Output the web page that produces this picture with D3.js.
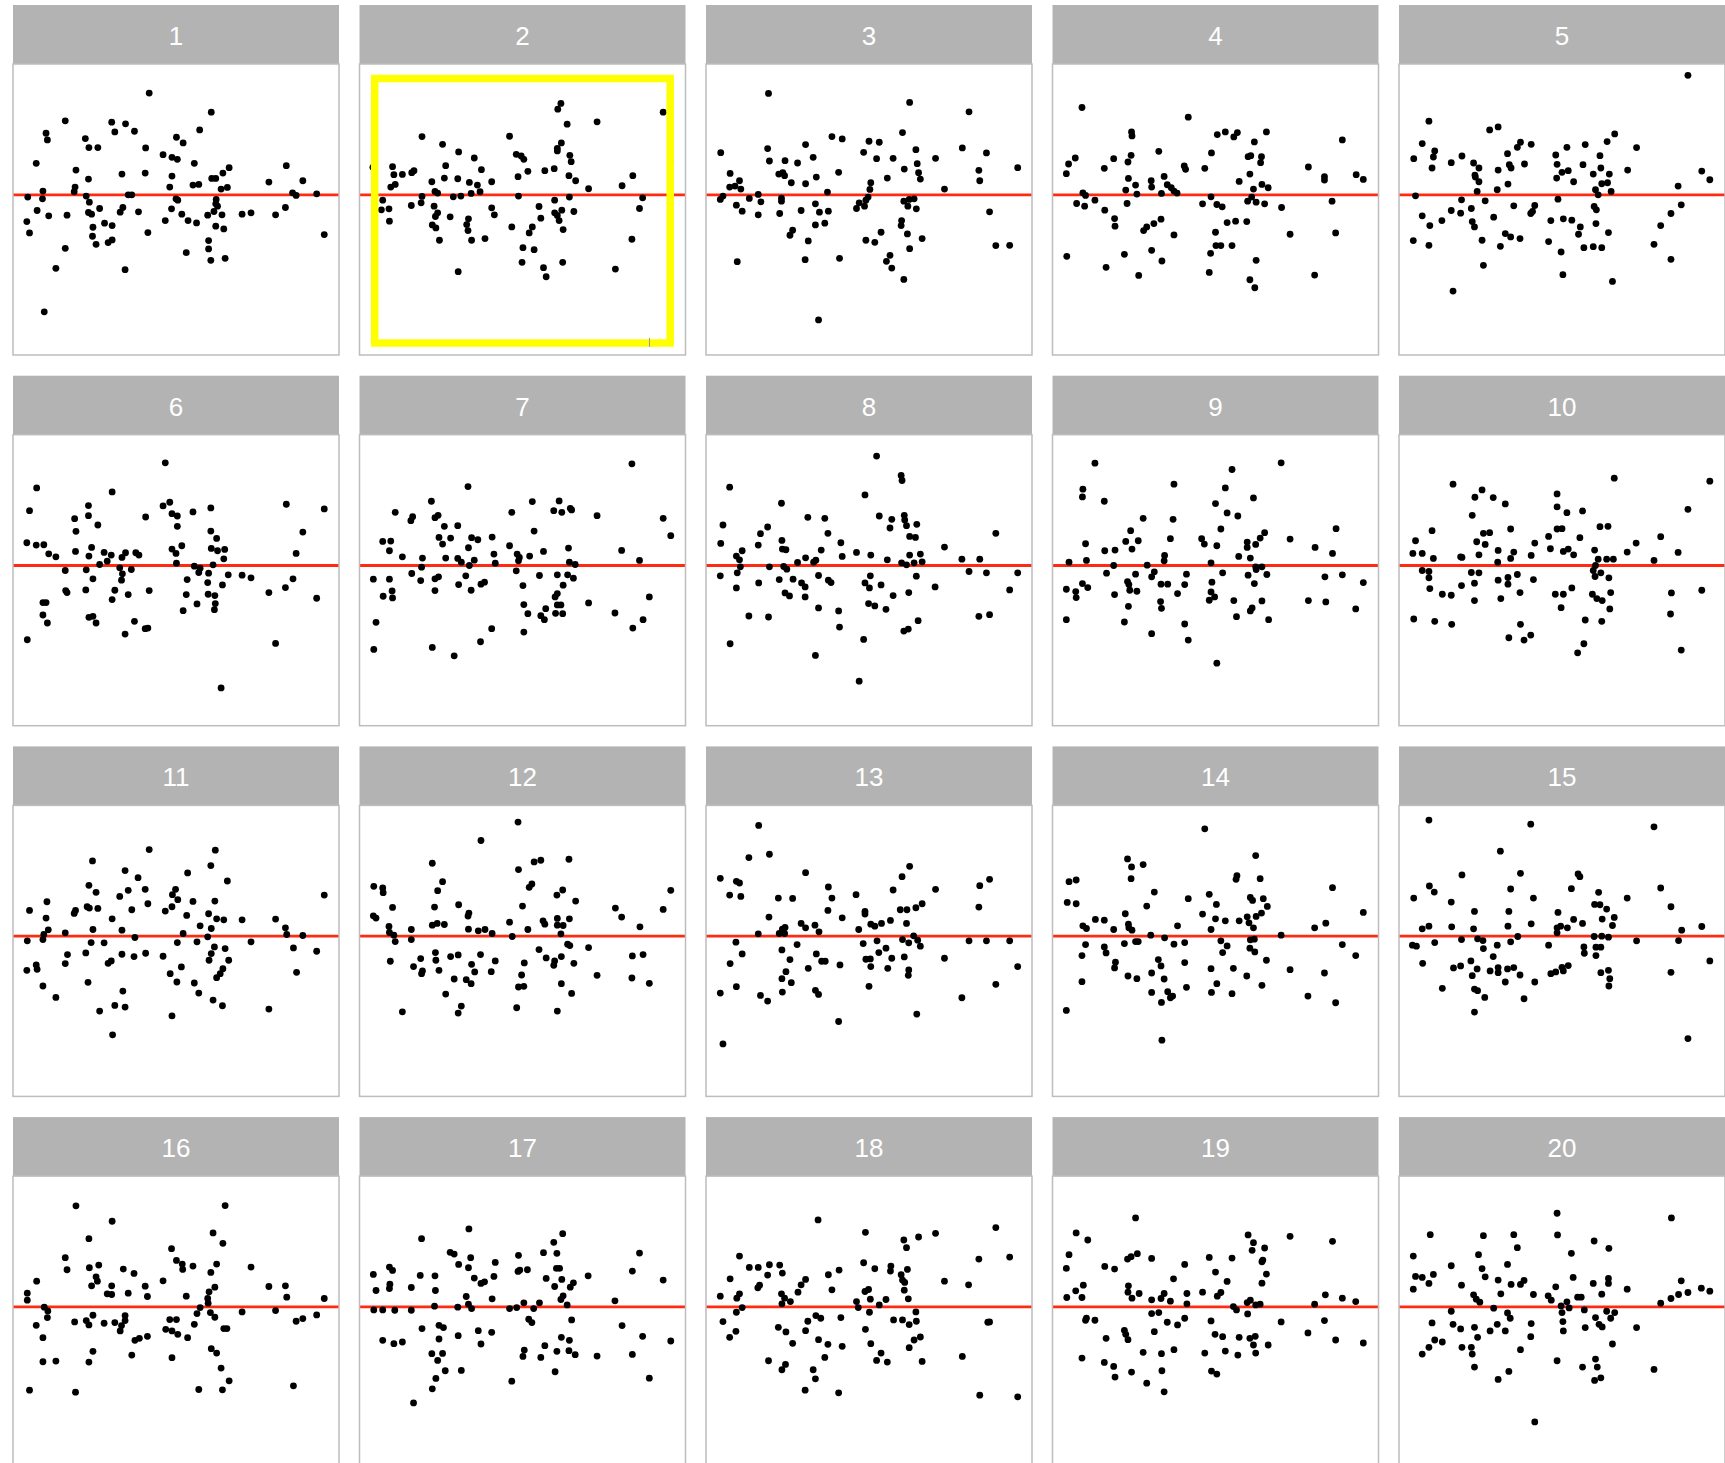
<!DOCTYPE html>
<html>
<head>
<meta charset="utf-8">
<script src="https://cdn.jsdelivr.net/npm/d3@7/dist/d3.min.js"></script>
<style>
body { margin: 0; background: #ffffff; }
</style>
</head>
<body>
<div class="LINEUP"></div>
<script>

// point data, one array per panel: [fitted, residual]
var p1 = [[30.5,30.4],[44.4,24.7],[11.7,22.1],[22.1,21.7],[25.2,21.2],[22.8,18.8],[27.2,19.0],[7.4,18.4],[7.7,16.4],[16.2,16.8],[41.8,19.4],[36.6,17.2],[38.1,15.5],[17.0,14.1],[19.0,14.1],[29.7,14.0],[33.6,12.0],[35.6,11.2],[36.8,10.6],[40.6,9.4],[5.2,9.4],[14.1,7.4],[24.4,6.2],[29.6,6.5],[35.6,5.6],[48.4,8.1],[47.0,6.5],[44.5,4.9],[45.4,4.9],[16.9,4.7],[61.2,8.7],[57.3,3.8],[64.9,4.2],[35.1,2.3],[40.3,2.9],[41.6,3.1],[46.6,1.7],[48.0,2.2],[13.9,2.3],[13.7,0.9],[6.7,1.1],[3.3,-0.7],[6.6,-1.2],[16.4,-0.4],[17.1,-2.2],[25.8,0],[26.6,0],[36.5,-1.2],[36.9,-1.6],[45.5,-1.4],[45.4,-2.7],[62.6,0.6],[63.4,-0.2],[68.0,0.3],[5.4,-4.7],[8.0,-6.3],[12.1,-6.1],[16.9,-5.3],[17.6,-5.8],[19.4,-4.1],[24.0,-5.2],[24.6,-3.8],[28.1,-5.1],[35.5,-4.2],[37.8,-5.8],[39.2,-7.7],[41.1,-8.4],[43.6,-6.1],[45.0,-5.0],[46.8,-6.0],[45.8,-3.4],[51.3,-5.8],[53.3,-5.4],[58.8,-6.0],[61.0,-3.8],[3.1,-8.0],[3.7,-11.4],[17.9,-9.7],[20.5,-8.5],[22.2,-9.2],[17.8,-12.4],[18.6,-14.8],[21.3,-14.3],[22.2,-13.5],[34.1,-7.7],[30.2,-11.3],[45.4,-9.4],[47.2,-10.2],[43.8,-13.7],[43.8,-16.2],[44.3,-19.6],[47.5,-19.0],[38.8,-17.3],[69.7,-11.9],[11.7,-16.0],[9.6,-22.0],[25.1,-22.4],[7.0,-35.0]];

var p2 = [[45.1,27.3],[44.4,25.6],[68.0,24.7],[53.2,21.8],[46.5,21.1],[14.0,17.4],[33.6,17.5],[18.6,15.1],[45.2,15.5],[44.3,13.9],[44.3,13.1],[22.2,12.8],[25.7,11.0],[35.1,12.1],[36.2,11.6],[36.8,10.6],[47.1,11.8],[47.4,9.9],[7.4,8.4],[19.3,8.7],[27.3,7.5],[7.7,6.0],[9.6,6.1],[11.7,6.6],[12.2,7.2],[37.7,7.0],[41.5,7.2],[43.6,7.8],[35.5,5.4],[46.9,5.7],[48.4,4.2],[61.2,5.7],[19.0,5.0],[22.0,4.8],[16.2,3.9],[24.6,3.7],[29.6,3.9],[26.4,2.9],[8.0,3.1],[7.0,2.3],[51.3,1.8],[58.8,2.7],[3.4,0.9],[16.9,1.0],[17.5,0.5],[27.0,0.9],[25.0,0.4],[22.7,-0.4],[21.0,-0.6],[14.0,-0.5],[35.6,-0.4],[47.0,-0.7],[63.4,-0.9],[5.2,-1.6],[13.8,-2.4],[11.6,-3.2],[16.7,-3.4],[4.9,-4.5],[6.6,-4.2],[43.7,-1.6],[40.2,-3.5],[45.3,-4.6],[43.7,-5.4],[48.0,-5.0],[29.6,-3.9],[30.2,-6.0],[62.7,-4.1],[17.5,-5.4],[17.0,-6.5],[20.3,-6.6],[24.4,-7.2],[40.6,-7.0],[44.3,-6.2],[44.7,-7.7],[6.7,-7.9],[24.0,-8.9],[16.3,-9.0],[17.1,-9.9],[24.3,-10.7],[34.1,-9.6],[38.7,-9.6],[38.0,-11.4],[45.6,-10.4],[17.9,-13.6],[25.1,-13.6],[28.1,-13.1],[61.0,-13.3],[36.6,-15.8],[39.1,-16.4],[36.4,-20.2],[45.5,-20.2],[41.2,-21.8],[41.8,-24.5],[22.1,-23.0],[57.3,-22.2],[3.0,8.2],[69.6,9.8]];

var p3 = [[14.0,30.3],[45.6,27.6],[58.9,24.8],[44.0,18.6],[28.2,17.4],[30.5,16.7],[36.5,16.0],[38.8,15.7],[3.3,12.6],[13.8,13.8],[22.3,15.0],[35.3,12.7],[47.0,13.5],[57.4,14.0],[62.8,12.5],[14.2,10.1],[17.7,10.2],[20.5,9.5],[24.0,11.2],[38.2,10.8],[41.9,10.9],[51.4,10.9],[47.3,9.3],[44.4,7.7],[47.6,6.6],[48.0,4.7],[69.8,8.1],[61.1,7.3],[61.3,4.2],[5.4,6.4],[16.3,6.2],[17.2,6.6],[17.6,5.7],[29.7,6.7],[24.7,5.3],[40.6,5.0],[7.5,4.2],[19.1,3.6],[22.3,3.3],[36.9,3.6],[5.3,2.3],[6.5,2.6],[7.8,1.7],[36.7,1.6],[53.4,1.7],[27.2,0.8],[3.8,-0.4],[3.2,-1.4],[9.7,-1.1],[11.7,0.1],[12.3,-2.1],[16.9,-1.0],[16.9,-1.9],[36.3,-0.7],[35.8,-1.6],[34.3,-2.4],[44.3,-1.9],[45.5,-1.4],[46.6,-1.2],[6.8,-3.1],[8.1,-4.9],[11.7,-6.0],[16.5,-5.6],[21.3,-4.7],[24.5,-2.7],[25.4,-5.2],[27.4,-4.9],[33.7,-4.1],[35.5,-3.4],[45.2,-3.4],[47.1,-4.2],[63.5,-5.1],[24.5,-9.0],[26.6,-8.5],[43.8,-7.7],[43.7,-9.2],[19.4,-10.6],[18.8,-12.1],[22.9,-13.8],[39.2,-11.2],[45.1,-11.7],[48.4,-13.1],[35.8,-13.6],[37.8,-14.2],[45.6,-16.1],[64.9,-15.2],[68.0,-15.1],[7.0,-20.0],[22.2,-19.4],[29.9,-19.0],[41.2,-18.1],[40.4,-19.9],[41.6,-21.9],[44.3,-25.3],[25.2,-37.4]];

var p4 = [[6.6,26.1],[30.4,23.2],[17.7,18.8],[17.8,17.6],[36.9,18.0],[38.7,18.8],[40.6,17.3],[41.4,18.6],[47.9,18.8],[45.2,15.8],[64.9,16.4],[23.8,13.0],[35.6,12.5],[5.1,11.0],[13.7,10.8],[17.6,11.8],[16.9,9.8],[43.8,11.4],[44.4,11.7],[46.8,11.4],[46.6,9.6],[3.6,9.2],[3.1,6.3],[11.6,7.9],[29.5,8.6],[29.8,7.6],[34.1,7.9],[57.3,8.3],[25.0,5.5],[44.2,6.2],[68.0,6.0],[69.6,4.6],[60.9,5.4],[60.9,4.4],[17.0,4.9],[22.1,4.2],[41.8,4.0],[18.6,2.9],[22.2,2.3],[25.7,3.0],[26.6,2.1],[46.9,3.1],[48.3,2.1],[45.0,1.7],[16.4,1.4],[18.9,0.2],[24.4,0.4],[27.9,0.5],[27.2,1.1],[6.8,0.6],[7.4,-0.2],[9.5,-1.6],[5.4,-2.6],[7.2,-3.4],[16.7,-2.6],[33.6,-2.7],[35.5,-0.6],[36.8,-2.9],[38.0,-3.6],[43.7,-1.9],[44.6,-0.7],[45.6,-2.2],[47.5,-2.7],[51.3,-3.8],[62.6,-1.9],[11.7,-4.6],[13.9,-7.1],[14.0,-9.4],[24.3,-7.3],[22.7,-8.6],[21.1,-9.6],[20.4,-10.7],[27.2,-12.0],[39.1,-8.3],[41.0,-7.9],[43.5,-8.0],[36.5,-11.2],[53.2,-11.8],[63.4,-11.4],[36.6,-15.2],[37.7,-15.2],[40.2,-15.2],[35.4,-17.5],[16.1,-17.8],[22.2,-16.6],[24.5,-19.8],[3.2,-18.4],[12.0,-21.7],[19.3,-24.1],[35.1,-23.2],[45.6,-19.6],[44.2,-25.4],[45.3,-27.8],[58.7,-24.0]];

var p5 = [[64.7,35.7],[6.7,22.0],[20.3,19.4],[22.2,20.3],[5.2,15.3],[3.3,10.8],[8.0,13.1],[7.7,11.3],[7.4,8.0],[11.7,9.6],[14.1,11.6],[16.7,9.5],[17.9,8.0],[17.0,5.9],[17.9,3.9],[17.5,1.0],[17.1,5.3],[22.2,7.4],[22.0,1.5],[24.3,12.3],[24.7,9.0],[25.1,8.0],[24.4,3.2],[26.5,14.2],[27.2,15.7],[29.6,15.1],[28.1,9.2],[35.1,11.9],[37.6,14.2],[41.7,15.0],[35.4,9.1],[36.5,6.7],[37.9,7.2],[35.3,5.0],[39.1,3.9],[41.2,9.0],[43.5,6.2],[45.0,11.7],[45.2,8.0],[46.6,15.9],[48.3,18.2],[47.1,6.2],[46.7,3.6],[45.4,3.3],[44.0,1.5],[44.6,0],[47.5,1.0],[53.2,14.1],[51.2,7.4],[62.5,2.6],[67.8,7.1],[69.6,4.5],[3.7,-0.3],[14.0,-1.5],[19.3,-1.8],[35.6,-1.3],[25.7,-3.3],[30.4,-3.2],[29.9,-5.0],[29.5,-5.6],[11.7,-4.7],[13.8,-5.5],[16.2,-4.1],[5.2,-6.3],[9.6,-7.7],[6.9,-9.2],[16.4,-8.0],[16.9,-9.6],[21.2,-6.7],[43.7,-3.5],[44.2,-4.5],[63.2,-3.0],[60.9,-5.6],[58.6,-9.2],[34.0,-7.7],[36.8,-7.2],[38.7,-7.6],[40.6,-9.6],[40.2,-11.8],[44.1,-8.6],[46.9,-11.3],[23.8,-11.6],[25.0,-12.6],[27.1,-13.1],[3.2,-13.7],[6.7,-15.1],[18.6,-13.6],[22.7,-15.4],[33.5,-14.0],[36.3,-17.1],[41.4,-15.8],[43.5,-15.5],[45.4,-15.8],[57.1,-14.8],[18.9,-21.1],[36.7,-23.9],[47.8,-25.9],[60.9,-19.3],[12.1,-28.8]];

var p6 = [[34.1,30.7],[5.3,23.2],[22.2,22.0],[3.7,16.4],[16.9,17.9],[13.8,14.0],[16.9,14.9],[14.1,10.2],[19.0,12.1],[33.6,17.8],[35.1,18.9],[35.6,15.5],[36.8,14.8],[40.3,16.0],[29.7,14.5],[36.8,11.7],[44.3,17.2],[44.3,10.3],[45.6,8.1],[61.2,18.3],[69.7,16.9],[64.9,10.0],[63.4,3.6],[3.1,6.8],[5.2,6.1],[6.9,6.2],[8.0,3.5],[9.6,2.6],[17.6,5.4],[14.0,4.2],[17.0,2.8],[20.4,3.9],[22.0,3.1],[21.1,1.3],[19.4,0.3],[24.4,2.4],[25.2,3.8],[27.5,3.8],[28.2,3.1],[35.6,4.9],[36.5,3.6],[37.8,5.9],[36.6,0.7],[44.4,5.1],[45.8,4.4],[47.4,4.8],[47.2,2.0],[44.8,0.2],[11.7,-1.5],[16.4,-1.3],[17.9,-4.0],[23.9,-0.7],[24.5,-2.5],[24.3,-4.4],[26.5,-1.2],[40.6,-0.2],[41.6,-2.1],[41.9,-0.8],[43.8,-2.3],[48.2,-2.8],[51.3,-2.9],[53.3,-3.7],[39.0,-4.2],[43.6,-5.1],[46.9,-5.8],[62.7,-4.0],[61.0,-6.6],[11.8,-7.5],[12.1,-8.1],[16.3,-7.3],[22.8,-7.4],[22.2,-10.2],[25.8,-8.7],[30.5,-7.5],[38.8,-8.7],[41.2,-11.5],[43.7,-8.6],[45.2,-9.0],[45.3,-11.4],[45.1,-13.2],[38.1,-13.5],[57.3,-8.1],[68.0,-9.8],[6.7,-11.1],[7.4,-11.1],[6.7,-14.8],[7.7,-17.2],[17.0,-15.5],[17.9,-15.2],[18.6,-17.2],[27.2,-16.7],[29.6,-18.9],[30.2,-18.7],[25.1,-20.5],[3.2,-22.2],[58.8,-23.3],[46.6,-36.6]];

var p7 = [[61.0,30.4],[24.3,23.6],[16.1,19.2],[38.7,19.1],[44.7,19.3],[43.5,16.4],[45.3,15.9],[47.2,17.1],[47.5,16.6],[34.1,15.9],[8.0,15.9],[11.9,14.6],[11.5,13.4],[16.9,14.3],[17.6,15.0],[53.2,14.9],[68.0,14.1],[69.7,8.9],[19.0,11.7],[22.0,11.9],[39.1,10.3],[17.8,8.4],[20.4,8.2],[18.6,6.4],[25.1,8.3],[26.5,7.7],[29.7,8.5],[24.4,5.3],[33.6,5.9],[5.2,7.2],[7.0,7.3],[6.7,4.4],[9.6,2.6],[14.1,2.2],[19.3,2.2],[22.0,2.1],[22.8,1.0],[25.7,1.6],[24.6,0],[30.1,3.4],[30.4,0.7],[35.3,3.4],[35.8,2.4],[35.6,1.4],[38.1,2.8],[41.2,4.2],[46.8,5.2],[47.0,1.0],[48.3,0.3],[58.7,4.5],[62.7,1.5],[13.9,-0.5],[11.7,-2.4],[13.7,-4.5],[3.1,-4.1],[6.7,-4.1],[16.9,-4.0],[17.7,-3.4],[23.8,-3.1],[22.2,-5.7],[25.0,-7.4],[27.2,-5.6],[28.0,-5.0],[35.1,-1.6],[36.6,-6.0],[40.3,-3.0],[44.3,-2.8],[46.6,-2.8],[47.9,-3.8],[45.6,-5.9],[16.9,-7.5],[5.3,-9.2],[7.3,-7.6],[7.4,-9.7],[44.3,-8.4],[43.8,-9.4],[36.8,-11.7],[37.7,-14.4],[40.6,-15.0],[41.4,-16.2],[41.7,-12.9],[44.3,-11.8],[45.1,-11.8],[43.9,-14.3],[45.5,-14.4],[51.3,-11.2],[57.2,-14.2],[64.9,-9.4],[63.5,-16.2],[61.2,-18.7],[3.7,-17.0],[3.2,-25.1],[16.3,-24.5],[21.2,-27.0],[27.1,-22.8],[29.6,-18.9],[36.8,-19.9]];

var p8 = [[38.2,32.7],[43.7,26.9],[43.9,25.4],[5.3,23.4],[35.6,21.1],[16.9,18.6],[22.8,14.4],[26.6,14.1],[38.8,14.8],[41.6,13.8],[41.2,11.2],[44.4,15.0],[44.5,13.6],[44.9,11.9],[47.2,12.3],[3.8,12.1],[13.8,11.5],[12.2,9.5],[27.3,9.6],[45.6,8.7],[46.9,8.4],[64.9,9.6],[3.3,6.6],[11.7,6.1],[17.0,7.5],[17.1,4.9],[17.9,4.7],[30.2,6.8],[25.8,4.6],[30.5,2.7],[33.7,3.9],[36.9,3.1],[40.6,1.7],[53.4,5.5],[8.1,4.4],[6.8,2.8],[7.5,1.7],[7.7,-0.4],[7.0,-2.2],[3.2,-3.1],[6.8,-6.7],[14.2,-0.4],[11.8,-5.2],[17.4,-0.3],[18.1,-1.1],[20.5,0.9],[22.3,2.3],[24.1,1.0],[24.6,1.6],[16.4,-4.2],[19.5,-4.1],[21.4,-5.2],[22.2,-6.4],[25.2,-3.0],[27.4,-4.4],[28.0,-5.1],[17.7,-8.2],[18.7,-9.1],[22.2,-9.4],[25.2,-12.7],[29.7,-13.6],[29.9,-18.4],[24.5,-26.9],[34.3,-34.6],[35.3,-22.1],[36.8,-3.1],[35.6,-5.2],[36.6,-6.7],[39.2,-5.8],[41.9,-9.0],[36.4,-11.4],[37.8,-12.1],[40.3,-13.1],[45.4,-8.1],[47.1,-3.2],[43.8,0.8],[44.9,0.2],[45.6,3.1],[46.6,0.8],[48.0,3.4],[48.4,1.1],[57.3,1.9],[61.3,1.9],[58.9,-1.8],[62.8,-2.2],[69.8,-2.2],[51.3,-6.4],[68.0,-7.3],[47.5,-16.5],[45.3,-19.0],[44.3,-19.6],[61.1,-15.2],[63.5,-14.7],[9.6,-15.1],[14.0,-15.4],[5.4,-23.4]];

var p9 = [[9.5,30.6],[51.2,30.7],[40.2,28.7],[27.2,24.3],[6.8,22.8],[6.7,20.5],[38.7,23.2],[11.6,19.2],[45.0,20.2],[36.5,18.5],[39.1,15.7],[41.5,14.8],[20.3,14.1],[27.0,13.8],[37.7,10.9],[17.5,10.4],[26.4,8.0],[33.4,8.0],[34.0,6.4],[36.8,5.9],[47.5,9.8],[46.5,8.2],[43.6,7.0],[45.5,6.3],[43.6,5.4],[53.2,7.9],[63.5,11.0],[58.8,5.4],[62.7,3.6],[16.4,7.2],[19.2,7.4],[17.8,4.9],[7.4,6.5],[11.7,4.4],[14.0,4.6],[7.6,1.5],[3.7,1.0],[13.7,0],[25.1,3.0],[25.0,1.4],[21.2,0.1],[35.5,0.8],[41.7,2.7],[44.3,2.2],[45.5,-0.4],[46.9,-0.4],[45.6,-1.2],[12.1,-2.3],[18.6,-2.6],[22.8,-1.9],[22.2,-3.4],[30.0,-2.6],[38.1,-2.2],[43.8,-2.9],[45.2,-5.4],[48.0,-2.7],[61.0,-3.4],[64.9,-2.8],[69.6,-5.1],[3.1,-7.1],[5.2,-7.8],[5.3,-9.6],[6.7,-5.4],[7.9,-6.6],[13.9,-8.7],[16.8,-4.8],[17.1,-5.7],[17.3,-7.4],[18.9,-7.7],[24.3,-5.6],[25.8,-5.6],[29.6,-5.7],[28.0,-8.4],[35.7,-5.0],[35.5,-7.9],[36.3,-9.4],[35.1,-10.4],[40.6,-10.5],[46.9,-10.6],[57.3,-10.5],[61.2,-10.9],[67.9,-13.0],[17.0,-12.2],[24.2,-10.8],[24.4,-12.8],[41.2,-15.3],[44.3,-13.6],[44.7,-12.7],[48.4,-16.2],[3.1,-16.2],[16.1,-16.9],[22.2,-20.4],[29.6,-17.5],[30.4,-22.3],[36.8,-29.2]];

var p10 = [[48.2,26.1],[69.6,25.2],[12.1,24.3],[18.6,22.6],[17.0,20.4],[21.1,20.3],[23.8,18.4],[35.4,21.4],[35.4,17.5],[37.6,15.8],[41.1,16.3],[64.7,16.8],[16.4,15.0],[7.4,10.4],[3.7,7.4],[18.9,9.6],[20.3,9.8],[25.0,10.9],[17.4,7.1],[19.3,6.3],[35.4,10.9],[36.5,11.0],[33.5,8.7],[40.5,8.3],[45.0,11.6],[46.8,11.7],[58.6,8.6],[53.1,6.7],[30.4,6.7],[3.1,3.6],[5.2,3.6],[7.7,2.1],[13.8,2.6],[14.1,2.4],[17.9,3.2],[22.2,4.5],[22.1,1.0],[25.7,4.0],[25.0,2.1],[29.6,3.0],[33.9,5.0],[36.8,4.2],[37.9,4.9],[39.1,3.2],[43.8,4.6],[44.6,1.9],[46.5,1.9],[48.0,1.9],[51.1,4.0],[57.1,1.5],[62.5,3.9],[5.2,-1.5],[6.7,-1.8],[6.7,-3.7],[6.9,-6.9],[9.7,-8.6],[11.7,-8.9],[14.0,-6.0],[16.2,-2.1],[17.9,-2.2],[16.9,-5.3],[16.9,-10.5],[22.2,-4.4],[24.4,-3.6],[24.4,-5.6],[26.5,-2.7],[27.1,-8.1],[22.8,-9.9],[30.1,-4.2],[35.0,-8.6],[36.8,-8.6],[36.3,-12.6],[38.7,-6.7],[43.5,-1.5],[43.9,-3.3],[44.0,0],[45.2,-2.2],[47.0,-3.7],[47.4,-8.1],[43.3,-8.6],[44.3,-9.9],[45.5,-10.5],[47.2,-13.0],[41.7,-16.3],[45.4,-16.7],[41.4,-23.4],[40.0,-26.1],[61.0,-8.2],[67.8,-7.4],[60.8,-14.5],[63.2,-25.3],[3.3,-16.0],[8.0,-16.7],[11.8,-17.6],[27.2,-17.6],[24.6,-21.6],[28.0,-22.3],[29.5,-20.8]];

var p11 = [[30.5,25.9],[45.3,25.7],[17.8,22.5],[44.3,21.1],[25.1,19.6],[39.1,18.9],[28.0,17.5],[48.0,16.5],[17.0,15.2],[18.6,13.1],[29.6,14.0],[25.8,13.7],[23.9,11.9],[36.4,14.0],[35.7,12.4],[36.9,10.9],[40.3,10.4],[45.2,10.5],[69.7,12.3],[7.6,10.3],[3.7,7.7],[14.0,7.7],[13.7,6.8],[16.6,8.8],[17.1,8.4],[19.0,8.3],[26.6,7.9],[30.2,9.7],[35.6,8.8],[34.1,7.5],[38.9,6.2],[43.8,6.7],[45.6,5.2],[47.2,4.9],[51.3,4.9],[58.8,5.1],[7.4,5.4],[22.2,5.2],[41.9,3.1],[44.4,2.3],[61.0,2.5],[61.3,0.5],[64.9,0.2],[7.9,1.9],[6.9,0.5],[6.7,-1.0],[3.2,-1.4],[11.7,1.0],[17.9,2.0],[24.4,1.8],[27.3,-0.4],[38.1,0.8],[43.6,-0.2],[36.8,-1.9],[41.2,-1.7],[53.3,-1.7],[17.5,-1.9],[20.4,-2.0],[45.1,-3.2],[47.5,-3.7],[62.8,-3.5],[68.0,-4.5],[16.3,-5.0],[12.2,-5.5],[24.4,-5.4],[27.1,-6.1],[29.7,-5.1],[33.6,-6.0],[44.4,-5.2],[43.9,-7.2],[48.3,-7.2],[11.7,-8.2],[21.3,-8.1],[22.0,-7.4],[37.7,-9.2],[35.2,-11.2],[36.7,-13.7],[47.0,-9.7],[46.4,-11.2],[45.6,-12.4],[63.5,-10.8],[3.1,-10.2],[5.2,-8.6],[5.4,-9.9],[6.7,-14.9],[9.6,-18.3],[16.8,-13.8],[24.6,-16.4],[19.4,-22.4],[22.8,-20.7],[25.1,-21.2],[22.3,-29.5],[35.6,-23.8],[40.6,-14.0],[41.6,-17.0],[44.8,-19.1],[46.9,-20.8],[57.3,-21.8]];

var p12 = [[35.5,34.1],[27.2,28.6],[16.3,21.8],[35.6,19.9],[39.1,22.2],[40.6,22.7],[46.9,23.0],[18.6,16.3],[38.0,14.6],[38.6,15.6],[3.2,14.9],[5.2,14.4],[5.3,13.0],[17.5,13.6],[44.2,12.3],[45.5,13.8],[48.4,10.5],[69.7,13.7],[7.4,8.6],[16.8,8.7],[22.2,9.4],[24.5,6.9],[24.3,6.0],[36.5,9.0],[57.3,8.4],[58.7,5.7],[68.0,8.0],[3.1,6.1],[3.7,5.4],[6.6,2.9],[6.7,1.1],[7.7,0.3],[11.6,2.0],[16.3,3.3],[17.4,3.8],[19.0,3.5],[24.4,2.1],[26.6,1.6],[28.1,2.0],[29.7,0.8],[33.6,4.2],[34.2,-0.1],[37.7,2.0],[41.1,4.6],[41.5,3.6],[44.3,5.3],[44.3,3.3],[45.6,3.2],[47.0,5.2],[45.1,0.7],[62.8,2.8],[8.0,-1.6],[11.6,-1.0],[46.6,-2.4],[47.1,-2.8],[51.3,-3.4],[40.2,-4.0],[17.0,-4.9],[17.1,-7.2],[20.4,-6.1],[22.1,-5.6],[27.1,-5.5],[41.8,-6.5],[45.2,-6.1],[43.7,-7.4],[43.5,-8.7],[48.0,-8.1],[61.1,-5.9],[63.5,-5.5],[6.9,-7.5],[13.7,-6.7],[12.1,-9.1],[13.9,-11.2],[14.1,-10.4],[17.8,-10.2],[25.1,-8.4],[25.8,-10.7],[30.4,-7.4],[29.5,-10.6],[36.9,-8.0],[36.3,-11.6],[21.2,-12.8],[23.9,-13.0],[25.0,-14.2],[53.2,-11.7],[61.0,-12.5],[64.9,-14.1],[35.6,-15.2],[36.8,-15.0],[45.2,-14.2],[47.5,-17.1],[19.3,-17.3],[22.8,-20.9],[22.1,-23.0],[9.6,-22.6],[35.2,-21.4],[44.3,-22.4]];

var p13 = [[11.8,33.1],[14.2,24.5],[9.6,23.5],[22.3,19.0],[45.6,20.9],[43.9,17.8],[3.2,17.3],[6.8,16.4],[7.5,15.9],[5.3,12.3],[7.8,11.9],[16.2,11.4],[19.4,11.3],[27.4,14.7],[28.2,11.4],[33.6,12.4],[41.9,13.8],[51.4,14.0],[61.3,15.1],[63.5,17.0],[61.1,8.7],[27.3,7.7],[35.6,7.4],[35.6,6.6],[43.5,7.9],[45.0,7.9],[47.0,8.5],[48.4,9.7],[14.1,5.7],[30.5,5.5],[21.3,3.8],[22.3,2.5],[24.4,3.3],[25.3,1.3],[36.9,3.6],[37.8,3.0],[39.3,3.8],[41.3,4.7],[44.9,3.8],[34.2,2.0],[17.1,2.1],[17.7,2.6],[16.4,0.8],[17.6,0.8],[11.7,0.7],[46.5,0.1],[44.0,-1.0],[47.4,-1.2],[45.4,-2.0],[48.0,-3.0],[38.3,-1.4],[35.2,-2.2],[58.9,-1.4],[62.8,-1.4],[68.0,-1.4],[6.7,-1.8],[8.1,-5.3],[5.4,-8.2],[20.4,-2.5],[17.0,-4.1],[18.8,-7.0],[24.7,-5.3],[25.9,-7.5],[26.7,-7.5],[30.0,-8.6],[22.9,-9.6],[38.7,-4.9],[40.3,-3.6],[41.6,-6.6],[44.4,-6.2],[35.8,-6.9],[36.8,-6.8],[36.9,-9.1],[40.7,-9.6],[45.4,-10.1],[45.3,-11.7],[53.4,-6.6],[69.8,-9.1],[17.9,-10.6],[17.0,-12.7],[19.1,-13.9],[17.1,-16.7],[6.8,-15.1],[3.2,-17.0],[12.2,-17.7],[13.8,-19.4],[24.5,-16.2],[25.2,-17.4],[36.5,-15.0],[64.9,-14.4],[57.3,-18.4],[47.2,-23.3],[29.7,-25.5],[3.8,-32.2]];

var p14 = [[34.1,32.1],[45.5,24.1],[16.8,23.1],[17.7,20.7],[20.3,21.4],[17.6,17.2],[3.7,16.3],[5.3,16.8],[41.3,18.1],[41.1,17.0],[46.5,17.2],[62.7,14.5],[22.8,13.2],[35.1,12.5],[30.4,11.2],[3.3,10.1],[5.3,9.7],[21.1,9.0],[36.7,9.5],[44.3,11.6],[44.8,10.7],[47.2,11.2],[48.1,8.9],[69.6,7.1],[16.3,6.7],[33.6,6.6],[36.5,5.2],[38.7,4.6],[41.8,4.6],[43.6,5.8],[44.0,4.0],[45.6,5.9],[46.8,6.9],[45.0,2.5],[9.6,5.0],[11.6,4.8],[17.0,3.6],[17.1,2.5],[17.8,1.8],[13.7,2.0],[28.0,3.1],[35.5,2.0],[6.8,3.1],[7.6,2.3],[61.2,3.9],[58.7,2.5],[51.2,0.3],[22.0,0.3],[25.1,-0.5],[18.6,-1.6],[19.2,-1.6],[16.1,-2.2],[27.2,-2.4],[29.6,-1.9],[37.7,-1.4],[39.1,-2.9],[38.1,-4.9],[44.3,-1.1],[45.2,-0.9],[44.2,-3.6],[45.3,-4.7],[64.9,-2.5],[67.9,-5.8],[7.4,-2.5],[11.6,-3.2],[12.0,-5.0],[6.6,-5.8],[14.1,-7.8],[13.9,-9.5],[23.7,-7.0],[24.3,-8.9],[29.6,-7.9],[47.9,-7.2],[35.5,-9.7],[40.5,-9.6],[22.2,-11.0],[16.9,-11.9],[18.9,-12.7],[25.0,-12.8],[43.5,-11.9],[53.2,-10.0],[60.9,-11.0],[6.6,-13.6],[30.0,-15.3],[36.8,-14.2],[46.9,-14.7],[22.2,-16.8],[25.8,-16.6],[26.4,-18.4],[26.9,-17.9],[24.4,-19.8],[35.6,-16.8],[40.2,-17.2],[57.2,-17.9],[63.4,-19.9],[3.1,-22.2],[24.5,-31.1]];

var p15 = [[6.7,34.7],[29.5,33.5],[57.1,32.7],[22.7,25.4],[14.1,18.3],[27.2,18.8],[40.1,18.6],[40.5,17.8],[58.6,14.4],[3.3,11.4],[6.8,15.0],[7.9,13.2],[25.0,14.1],[30.1,11.4],[38.6,14.2],[44.7,13.1],[51.1,11.4],[11.7,10.2],[16.9,7.4],[24.6,7.4],[35.6,7.1],[43.8,9.5],[45.0,9.4],[46.5,8.1],[60.9,8.8],[45.5,5.1],[48.2,5.6],[47.8,3.2],[39.1,5.0],[41.1,3.8],[5.2,2.2],[6.7,3.0],[11.8,2.8],[16.7,2.2],[24.4,3.0],[29.6,3.7],[35.4,2.5],[36.2,3.0],[37.7,2.5],[35.4,1.0],[63.3,1.8],[67.8,2.9],[14.0,-1.0],[8.0,-1.9],[3.0,-2.7],[3.9,-3.0],[17.6,-0.8],[18.8,-1.3],[22.0,-2.7],[25.0,-1.7],[26.6,-0.1],[33.5,-2.7],[18.9,-3.7],[21.1,-6.1],[43.7,-0.1],[45.4,0],[46.9,-0.3],[53.2,-1.4],[62.6,-1.3],[41.4,-3.2],[41.5,-5.1],[44.1,-3.3],[45.2,-3.3],[44.1,-5.8],[5.3,-8.1],[12.2,-9.5],[13.8,-8.9],[16.1,-7.4],[17.5,-9.8],[16.4,-11.8],[20.4,-10.4],[22.2,-9.4],[22.2,-10.9],[24.3,-9.8],[25.7,-9.4],[27.1,-11.6],[23.8,-13.7],[34.0,-11.2],[35.1,-10.7],[36.5,-9.3],[37.9,-8.8],[36.8,-10.4],[45.2,-10.9],[46.9,-10.2],[47.2,-12.7],[47.0,-14.9],[60.9,-10.8],[69.6,-7.4],[9.7,-15.6],[16.9,-15.8],[17.6,-16.3],[19.2,-18.3],[30.4,-13.7],[28.0,-18.7],[16.9,-22.7],[64.7,-30.6]];

var p16 = [[14.1,30.2],[47.5,30.3],[22.2,25.6],[44.8,22.1],[17.0,20.4],[47.0,19.0],[35.5,17.4],[11.7,14.7],[12.1,11.1],[36.6,13.9],[37.9,12.8],[38.0,11.2],[40.3,12.2],[45.6,12.8],[44.3,10.3],[53.3,11.9],[17.1,11.7],[19.2,12.5],[24.7,11.3],[27.1,10.0],[18.6,9.0],[18.9,7.7],[17.6,6.3],[22.1,6.3],[5.3,7.7],[29.6,6.2],[33.6,7.8],[45.2,5.9],[43.9,4.5],[57.3,6.1],[61.0,6.3],[61.3,2.9],[69.7,2.5],[3.2,4.1],[3.2,2.0],[21.1,3.9],[22.1,3.7],[25.8,4.1],[30.1,3.1],[38.8,3.2],[43.6,2.5],[43.7,1.1],[41.9,-0.2],[41.2,-2.0],[44.2,-1.7],[45.2,-3.1],[7.0,-0.1],[7.8,-1.2],[7.7,-3.2],[5.2,-5.5],[6.7,-9.2],[13.8,-4.5],[16.4,-4.1],[17.0,-5.4],[17.9,-2.5],[20.4,-4.9],[22.8,-4.7],[25.1,-2.6],[25.1,-4.1],[24.3,-5.6],[24.0,-7.2],[35.1,-3.8],[36.6,-3.8],[34.2,-6.7],[35.6,-7.2],[36.9,-8.2],[39.1,-9.2],[40.6,-5.2],[47.2,-6.5],[47.9,-6.5],[51.3,-1.5],[58.8,-1.1],[63.4,-4.3],[64.9,-3.5],[68.0,-2.4],[27.3,-10.0],[28.3,-9.4],[30.1,-8.8],[17.9,-13.3],[26.6,-14.4],[35.6,-15.2],[44.4,-12.5],[45.6,-13.8],[46.6,-18.3],[48.4,-22.1],[6.7,-16.4],[9.6,-16.2],[17.0,-16.5],[3.7,-24.9],[14.0,-25.5],[41.6,-24.7],[46.9,-24.8],[62.8,-23.6]];

var p17 = [[24.5,23.3],[13.9,20.4],[45.5,21.9],[43.5,19.3],[44.2,16.0],[41.2,16.2],[35.6,15.4],[20.3,16.3],[21.2,15.8],[24.9,14.7],[30.4,13.3],[22.2,12.7],[24.4,11.7],[62.7,16.1],[6.7,11.9],[7.4,10.9],[35.5,10.6],[35.9,11.0],[37.6,11.1],[44.1,11.5],[44.8,11.5],[61.1,10.7],[3.1,9.7],[13.6,9.4],[16.9,9.3],[25.7,8.6],[30.1,9.1],[41.8,8.5],[45.3,8.2],[51.2,9.3],[68.0,8.0],[6.8,6.8],[6.7,5.5],[3.7,4.9],[11.6,5.8],[17.0,4.9],[27.2,7.0],[28.0,7.5],[43.7,6.1],[47.2,5.9],[47.9,7.2],[23.9,3.1],[29.7,2.4],[36.8,1.2],[40.3,1.2],[45.6,3.3],[45.1,2.2],[46.5,0.6],[57.2,1.8],[16.8,0.2],[22.0,-0.1],[24.4,0.8],[25.1,-0.5],[33.6,-0.5],[35.2,-0.2],[39.0,-0.5],[3.2,-0.9],[5.2,-0.9],[7.9,-1.0],[11.6,-1.0],[37.9,-3.7],[38.6,-4.7],[47.5,-3.9],[58.8,-5.6],[14.0,-6.5],[17.8,-5.5],[18.8,-6.2],[22.1,-8.6],[26.6,-7.1],[29.6,-7.6],[63.4,-8.8],[69.7,-10.2],[5.2,-10.0],[7.7,-11.0],[9.6,-10.5],[17.8,-9.6],[27.2,-11.1],[45.2,-9.1],[47.0,-10.0],[41.5,-11.6],[36.9,-12.9],[36.6,-14.8],[40.6,-15.1],[44.2,-13.3],[46.9,-13.1],[48.3,-14.3],[53.2,-14.7],[61.1,-14.2],[16.2,-14.0],[18.6,-13.9],[17.5,-16.0],[19.2,-19.1],[22.8,-19.0],[17.1,-21.4],[16.3,-24.5],[12.1,-28.7],[34.1,-22.2],[43.8,-19.4],[64.9,-21.3]];

var p18 = [[25.1,26.0],[35.7,22.3],[64.9,23.7],[51.4,22.0],[44.3,20.0],[47.6,20.9],[44.9,17.7],[7.5,15.2],[68.0,14.9],[61.1,14.3],[9.7,11.8],[11.7,11.8],[14.2,12.6],[16.5,12.5],[13.8,9.5],[17.1,10.1],[35.3,13.2],[37.8,11.4],[41.4,12.2],[41.3,10.7],[45.1,11.2],[29.8,11.0],[27.4,9.6],[43.7,9.6],[44.0,8.0],[44.5,7.3],[5.4,8.4],[22.3,8.2],[21.3,6.6],[20.6,4.4],[12.0,6.5],[11.6,5.7],[28.2,5.1],[53.4,7.7],[58.8,6.6],[35.6,4.6],[36.4,5.2],[44.4,5.0],[7.5,3.9],[6.9,2.6],[3.2,3.2],[16.9,3.9],[17.6,2.6],[18.9,1.6],[17.0,0.9],[33.7,1.6],[34.1,-0.2],[36.8,2.3],[40.3,2.2],[38.8,0.6],[45.3,2.4],[8.1,-0.2],[6.8,-1.6],[3.8,-4.4],[6.7,-7.3],[5.3,-9.1],[24.6,-2.6],[25.7,-3.4],[22.8,-4.3],[30.2,-3.2],[36.6,-1.6],[42.0,-3.9],[44.0,-3.9],[45.5,-5.3],[47.0,-1.5],[47.1,-4.3],[63.1,-4.6],[63.5,-4.5],[16.2,-6.1],[17.9,-7.5],[19.4,-10.9],[22.3,-7.1],[25.2,-9.8],[27.3,-11.2],[26.6,-15.1],[30.5,-11.8],[35.7,-6.7],[36.9,-11.0],[39.2,-13.8],[38.2,-16.0],[40.6,-16.5],[45.5,-12.2],[46.6,-9.9],[48.0,-9.0],[48.4,-16.3],[57.4,-14.8],[14.0,-16.1],[17.8,-17.2],[17.0,-18.8],[24.0,-18.8],[24.5,-21.5],[22.2,-24.9],[29.7,-25.7],[61.3,-26.4],[69.8,-26.9]];

var p19 = [[18.6,26.6],[5.3,22.1],[7.9,20.0],[43.8,21.5],[45.0,19.2],[44.7,16.9],[47.5,17.6],[53.2,21.1],[62.7,19.6],[3.7,15.6],[3.1,11.5],[16.8,14.3],[17.6,15.0],[19.0,15.9],[22.2,14.5],[29.6,12.7],[35.1,14.8],[40.2,14.6],[46.9,13.5],[47.1,14.0],[11.7,12.1],[13.9,11.3],[36.5,10.4],[47.9,9.8],[27.1,8.4],[39.1,7.6],[46.9,7.1],[6.9,6.5],[5.2,4.8],[17.0,6.3],[16.9,4.4],[19.4,4.0],[17.8,2.6],[25.0,4.0],[24.3,2.5],[22.2,2.1],[26.4,1.7],[30.1,4.0],[30.1,0.9],[33.6,4.4],[37.7,4.3],[36.9,3.2],[61.1,3.6],[64.9,2.6],[67.9,1.6],[58.7,0.8],[3.2,2.8],[6.6,2.8],[40.5,0.1],[41.2,-0.9],[43.6,1.3],[44.3,2.0],[45.5,0.6],[46.5,0.8],[43.7,-2.1],[22.2,-2.0],[23.8,-1.7],[25.7,-4.6],[28.0,-5.4],[29.6,-3.4],[7.4,-4.0],[7.6,-3.4],[9.5,-4.0],[35.5,-4.2],[51.2,-4.5],[60.9,-4.1],[57.2,-7.8],[63.4,-9.9],[69.6,-10.8],[12.0,-9.4],[16.1,-7.0],[16.4,-8.2],[16.9,-9.8],[22.8,-7.4],[36.4,-8.2],[38.1,-8.9],[41.8,-9.1],[44.2,-9.4],[45.4,-8.8],[45.0,-11.4],[45.5,-13.8],[48.3,-11.4],[20.3,-13.6],[24.4,-14.0],[27.2,-12.8],[34.1,-13.8],[38.7,-13.2],[41.5,-14.4],[6.6,-15.3],[11.6,-16.6],[13.7,-17.8],[14.0,-21.0],[17.7,-19.5],[21.1,-22.8],[24.5,-19.1],[25.0,-25.4],[35.6,-19.2],[36.8,-20.1]];

var p20 = [[35.4,28.0],[61.0,26.6],[7.0,21.6],[18.9,21.3],[25.7,21.6],[35.5,21.5],[43.7,19.7],[26.5,17.7],[47.0,17.5],[3.2,15.2],[17.8,15.6],[38.6,16.0],[11.7,12.3],[24.3,12.7],[18.6,11.4],[19.3,9.0],[3.7,9.1],[5.2,8.8],[7.7,9.7],[6.7,7.0],[3.2,5.3],[14.0,6.5],[22.2,8.0],[25.1,6.7],[27.2,6.7],[28.0,7.9],[39.0,8.8],[43.5,7.0],[46.9,8.5],[46.9,7.0],[51.1,5.3],[63.2,7.8],[67.7,5.6],[69.6,4.7],[64.7,4.3],[62.6,3.7],[60.9,2.5],[58.6,1.1],[16.7,3.6],[17.3,2.3],[18.1,1.4],[22.8,3.9],[30.1,3.7],[33.4,3.3],[34.1,2.0],[35.1,6.0],[40.0,2.9],[40.8,2.9],[45.4,3.8],[36.3,0.3],[37.6,1.5],[38.1,-0.3],[21.2,-0.4],[11.7,-1.3],[24.3,-1.8],[24.9,-3.4],[41.5,-0.9],[36.5,-1.7],[36.7,-4.4],[36.8,-7.2],[46.5,-1.3],[48.3,-1.7],[47.4,-3.4],[44.0,-3.2],[44.8,-5.2],[45.5,-6.0],[41.7,-6.2],[53.2,-6.2],[7.4,-4.8],[12.1,-5.2],[13.8,-6.6],[16.9,-6.1],[17.6,-9.1],[20.4,-7.2],[22.0,-5.2],[23.8,-7.2],[29.6,-5.0],[29.5,-8.9],[8.0,-9.9],[9.7,-10.5],[6.7,-12.1],[5.2,-14.1],[14.1,-12.1],[16.2,-12.1],[16.4,-14.1],[16.9,-18.0],[27.2,-12.8],[47.8,-11.1],[35.4,-16.1],[41.1,-18.0],[44.0,-15.6],[44.4,-18.0],[43.8,-22.0],[45.2,-21.2],[57.1,-18.7],[22.2,-21.7],[24.6,-19.3],[30.4,-34.4]];

var panelLabels = ["1","2","3","4","5","6","7","8","9","10","11","12","13","14","15","16","17","18","19","20"];
var highlightLabel = "2";  // panel outlined in yellow
var xDomain = [0, 73];
var yDomain = [-47.9, 39.1];

var panels = [p1,p2,p3,p4,p5,p6,p7,p8,p9,p10,p11,p12,p13,p14,p15,p16,p17,p18,p19,p20];

// layout of the facet grid
var width = 1725, height = 1463;
var left0 = 13, top0 = 5;
var colStep = 346.5, rowStep = 370.7;
var panelW = 326, stripH = 59, panelH = 291;

var canvas = d3.select(".LINEUP").append("svg")
	.attr("width", width)
	.attr("height", height)
	.style("display", "block");

var x = d3.scaleLinear().domain(xDomain).range([0, panelW]);
var y = d3.scaleLinear().domain(yDomain).range([panelH, 0]);

panels.forEach(function(pts, i) {
	var col = i % 5;
	var row = Math.floor(i / 5);

	var g = canvas.append("g")
		.attr("transform", "translate(" + (left0 + col * colStep) + "," + (top0 + row * rowStep) + ")");

	// grey strip with panel number
	g.append("rect")
		.attr("width", panelW)
		.attr("height", stripH)
		.attr("fill", "#b3b3b3");

	g.append("text")
		.attr("x", panelW / 2)
		.attr("y", 40)
		.attr("text-anchor", "middle")
		.attr("font-family", "Liberation Sans, Arial, sans-serif")
		.attr("font-size", "26px")
		.attr("fill", "white")
		.text(panelLabels[i]);

	var p = g.append("g")
		.attr("transform", "translate(0," + stripH + ")");

	p.append("rect")
		.attr("width", panelW)
		.attr("height", panelH)
		.attr("fill", "white");

	// zero line
	p.append("line")
		.attr("x1", 0)
		.attr("x2", panelW)
		.attr("y1", y(0))
		.attr("y2", y(0))
		.attr("stroke", "#ff2a12")
		.attr("stroke-width", 2.8);

	p.selectAll("circle")
		.data(pts)
		.enter().append("circle")
		.attr("cx", function(d) { return x(d[0]); })
		.attr("cy", function(d) { return y(d[1]); })
		.attr("r", 3.4)
		.attr("fill", "black");

	if (panelLabels[i] == highlightLabel) {
		p.append("rect")
			.attr("x", 15.2)
			.attr("y", 14.5)
			.attr("width", panelW - 30.5)
			.attr("height", panelH - 26.5)
			.attr("fill", "none")
			.attr("stroke", "#ffff00")
			.attr("stroke-width", 7.5);
		// little grey tick left by the highlight layer
		p.append("line")
			.attr("x1", 290).attr("x2", 290)
			.attr("y1", panelH - 17).attr("y2", panelH - 8)
			.attr("stroke", "#9a9a9a")
			.attr("stroke-width", 1);
	}

	// panel border on top
	p.append("rect")
		.attr("width", panelW)
		.attr("height", panelH)
		.attr("fill", "none")
		.attr("stroke", "#bdbdbd")
		.attr("stroke-width", 1.5);
});

</script>
</body>
</html>
